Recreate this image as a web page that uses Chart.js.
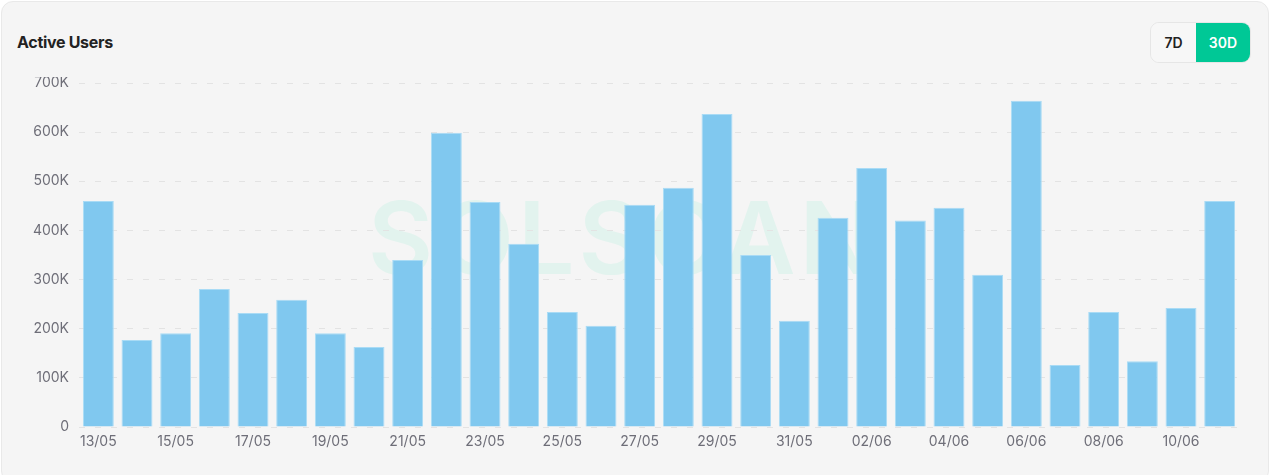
<!DOCTYPE html>
<html>
<head>
<meta charset="utf-8">
<script src="https://cdn.jsdelivr.net/npm/chart.js@4"></script>
<style>
  html, body { margin: 0; padding: 0; background: #ffffff; }
  body { width: 1269px; height: 475px; position: relative; overflow: hidden; font-family: Inter, "Noto Sans", sans-serif; }
  .card { position: absolute; left: 1px; top: 1px; width: 1266px; height: 480px; background: #f5f5f5; border: 1px solid #e9e9e9; border-radius: 12px; }
  .title { position: absolute; left: 17px; top: 32px; font-size: 16px; font-weight: 700; color: #222; letter-spacing: -0.3px; }
  .toggle { position: absolute; left: 1150px; top: 22px; height: 39px; display: flex; border: 1px solid #e6e6e6; border-radius: 9px; overflow: hidden; }
  .toggle span { display: flex; align-items: center; justify-content: center; font-size: 14px; font-weight: 600; }
  .toggle .off { width: 45px; color: #222; background: #f7f7f7; }
  .toggle .on { width: 54px; color: #fff; background: #00c896; }
  .mark { position: absolute; left: 368px; top: 188px; font-size: 100px; font-weight: 600; color: #e2f3ee; letter-spacing: 4px; line-height: 1; }
  canvas { position: absolute; left: 0; top: 0; clip-path: inset(77px 0 0 0); }
</style>
</head>
<body>
<div class="card"></div>
<div class="mark">SOLSCAN</div>
<div class="title">Active Users</div>
<div class="toggle"><span class="off">7D</span><span class="on">30D</span></div>
<canvas id="chart" width="1269" height="475"></canvas>
<script>
const days = ["13/05","14/05","15/05","16/05","17/05","18/05","19/05","20/05","21/05","22/05",
  "23/05","24/05","25/05","26/05","27/05","28/05","29/05","30/05","31/05","01/06",
  "02/06","03/06","04/06","05/06","06/06","07/06","08/06","09/06","10/06","11/06"];
const activeUsers = [460000, 177000, 191000, 281000, 232000, 259000, 191000, 163000, 340000, 599000,
  458000, 373000, 234000, 206000, 452000, 487000, 637000, 350000, 216000, 426000,
  527000, 420000, 446000, 310000, 664000, 126000, 234000, 134000, 242000, 460000];
const yTicks = [0, 100000, 200000, 300000, 400000, 500000, 600000, 700000];

const ctx = document.getElementById("chart").getContext("2d");
new Chart(ctx, {
  type: "bar",
  data: {
    labels: days,
    datasets: [{
      label: "Active Users",
      data: activeUsers,
      backgroundColor: "#80c8ef",
      borderColor: "#a9dbf5",
      borderWidth: { top: 1, left: 1, right: 1, bottom: 0 },
      categoryPercentage: 0.8,
      barPercentage: 1.0
    }]
  },
  options: {
    responsive: false,
    animation: false,
    layout: { padding: { left: 19, right: 30, top: 83, bottom: 18 } },
    plugins: { legend: { display: false }, tooltip: { enabled: false } },
    scales: {
      x: {
        grid: { display: false, drawTicks: false },
        border: { display: false },
        afterFit: s => { s.height = 30; },
        ticks: {
          color: "#6e6e78",
          font: { family: "Inter, 'Noto Sans', sans-serif", size: 14 },
          padding: 6,
          maxRotation: 0,
          autoSkip: false,
          callback: function (v, i) { return i % 2 === 0 ? days[i] : ""; }
        }
      },
      y: {
        min: 0,
        max: 700000,
        afterFit: s => { s.width = 60; },
        afterBuildTicks: s => { s.ticks = yTicks.map(v => ({ value: v })); },
        grid: { color: "#e3e3e3", drawTicks: false, tickLength: 0 },
        border: { display: false, dash: [6, 10] },
        ticks: {
          color: "#6e6e78",
          font: { family: "Inter, 'Noto Sans', sans-serif", size: 14 },
          padding: 10,
          callback: v => v === 0 ? "0" : (v / 1000) + "K"
        }
      }
    }
  }
});
</script>
</body>
</html>
